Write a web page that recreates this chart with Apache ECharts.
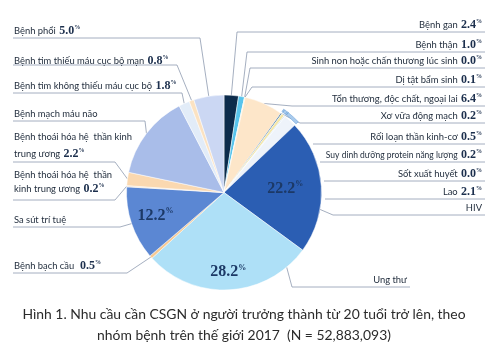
<!DOCTYPE html>
<html><head><meta charset="utf-8">
<script src="https://cdn.jsdelivr.net/npm/echarts@6/dist/echarts.min.js"></script>
<style>html,body{margin:0;padding:0;background:#fff}#c{width:504px;height:355px}</style>
</head><body><div id="c"></div>
<script>
// ---- data ----
const categories = [
  'Bệnh gan','Bệnh thận','Sinh non hoặc chấn thương lúc sinh','Dị tật bẩm sinh',
  'Tổn thương, độc chất, ngoại lai','Xơ vữa động mạch','Rối loạn thần kinh-cơ',
  'Suy dinh dưỡng protein năng lượng','Sốt xuất huyết','Lao','HIV','Ung thư',
  'Bệnh bạch cầu','Sa sút trí tuệ','Bệnh thoái hóa hệ thần kinh trung ương',
  'Bệnh thoái hóa hệ thần kinh trung ương','Bệnh mạch máu não',
  'Bệnh tim không thiếu máu cục bộ','Bệnh tim thiếu máu cục bộ mạn','Bệnh phổi'
];
const values = [2.4,1.0,0.0,0.1,6.4,0.2,0.5,0.2,0.0,2.1,22.2,28.2,0.5,12.2,0.2,2.2,14.1,1.8,0.8,5.0];
const labelTexts = [
  'Bệnh gan','Bệnh thận','Sinh non hoặc chấn thương lúc sinh','Dị tật bẩm sinh',
  'Tổn thương, độc chất, ngoại lai','Xơ vữa động mạch','Rối loạn thần kinh-cơ',
  'Suy dinh dưỡng protein năng lượng','Sốt xuất huyết','Lao','HIV','Ung thư',
  'Bệnh bạch cầu ','Sa sút trí tuệ','Bệnh thoái hóa hệ  thần\nkinh trung ương',
  'Bệnh thoái hóa hệ  thần kinh\ntrung ương','Bệnh mạch máu não',
  'Bệnh tim không thiếu máu cục bộ','Bệnh tim thiếu máu cục bộ mạn','Bệnh phổi'
];
const valueInLabel = [1,1,1,1,1,1,1,1,1,1,0,0,1,0,1,1,0,1,1,1];
const valueInside  = [0,0,0,0,0,0,0,0,0,0,1,1,0,1,0,0,0,0,0,0];
const captionLines = [
  'Hình 1. Nhu cầu cần CSGN ở người trưởng thành từ 20 tuổi trở lên, theo',
  'nhóm bệnh trên thế giới 2017  (N = 52,883,093)'
];

// ---- styles / layout ----
const colors = ['#0c2c4c','#58c4ec','#e9dc9c','#efe3a2','#fde6c9','#1f5b8e','#f3e6a8','#cfe2f5','#ffffff','#eef3fa',
  '#2b5eb3','#aee0f7','#f6c992','#5b87d3','#f2ddc4','#fad8b0','#a9bde9','#e2ecf8','#fbe2c2','#cbd7f3'];
const CX = 224, CY = 192.5, R = 97.5;
const labelY = [32,52,68,87,106,123,144,162,181,199,215,287,273,227,196,162,121,93,68,38];
const lineY  = [32,52,68,87,106,123,144,162,181,199,215,287,273,227,200,162,121,93,65,38];
const kneeX  = [237,247,250,252,292,300,313,320,324,325,333,292,127,120,115,115,145,182,177,200];
const anchorDeg = [null,null,null,null,null,null,'k','k','k','k',100,140,null,null,null,null,null,null,null,null];
const lineHts = [14,14,14,14,14,14,14,14,14,14,14,14,14,14,14,17,14,14,14,14];
const smallText = [0,0,0,0,0,0,0,1,0,0,0,0,0,0,0,0,0,0,0,0];
const innerFrac = {10:0.63, 11:0.82, 13:0.74};
const ringIdx = [5,6,7,8,9];
const TXT_FONT = 'Lato';

const total = values.reduce((a,b)=>a+b,0);
function midAngle(i){ let c=0; for(let k=0;k<i;k++) c+=values[k]; return (c+values[i]/2)/total*360; }
function ptAt(deg, r){ const a=deg*Math.PI/180; return [CX+r*Math.sin(a), CY-r*Math.cos(a)]; }

const chart = echarts.init(document.getElementById('c'), null, {renderer:'canvas'});
const data = values.map((v,i)=>({name:categories[i], value:v}));

const rich = {
  n:{fontFamily:TXT_FONT, fontSize:9.4, color:'#1e2a3a'},
  s:{fontFamily:TXT_FONT, fontSize:8.5, color:'#1e2a3a'},
  v:{fontFamily:'Liberation Serif', fontWeight:'bold', fontSize:12, color:'#1c2f4d'},
  p:{fontFamily:'Liberation Serif', fontWeight:'bold', fontSize:6, color:'#1c2f4d', padding:[0,0,7,0]},
  N:{fontFamily:'Liberation Serif', fontWeight:'bold', fontSize:16, color:'#1c3966'},
  P:{fontFamily:'Liberation Serif', fontWeight:'bold', fontSize:8, color:'#1c3966', padding:[0,0,9,0]}
};

const option = {
  backgroundColor:'#ffffff',
  animation:false,
  graphic: captionLines.map((t,k)=>({type:'text', x:244, y:315+k*21,
    style:{text:t, align:'center', verticalAlign:'middle', fill:'#2b2b2b', font:'13.9px Lato'}})),
  series:[
    {
      type:'pie', center:[CX,CY], radius:R, startAngle:90, clockwise:true,
      avoidLabelOverlap:false, silent:true,
      data: data.map((d,i)=>({...d, itemStyle:{color:colors[i]},
        label:{lineHeight:lineHts[i]}})),
      itemStyle:{borderColor:'#ffffff', borderWidth:0.5},
      label:{show:true, position:'outside', rich:rich,
        formatter:(p)=>{
          const i=p.dataIndex; const lines=labelTexts[i].split('\n');
          const key = smallText[i] ? 's' : 'n';
          let s=lines.map(l=>'{'+key+'|'+l+'}').join('\n');
          if(valueInLabel[i]) s+=' {v|'+values[i].toFixed(1)+'}{p|%}';
          return s;
        }},
      labelLine:{show:true, length:5, length2:5, lineStyle:{color:'#8e9bb0', width:0.8}},
      labelLayout:(p)=>{
        const i=p.dataIndex;
        const isRight = i<=11;
        const farX = i===11 ? 410 : (isRight ? 485 : 13);
        const x = i===11 ? 407 : (isRight ? 482 : 14);
        let a;
        if(anchorDeg[i]==='k') a=[kneeX[i], lineY[i]];
        else if(typeof anchorDeg[i]==='number') a=ptAt(anchorDeg[i], R);
        else if(p.labelLinePoints && p.labelLinePoints[0]) a=p.labelLinePoints[0];
        else a=ptAt(midAngle(i), R);
        return {x:x, y:labelY[i], align:isRight?'right':'left', verticalAlign:'bottom',
          labelLinePoints:[a,[kneeX[i],lineY[i]],[farX,lineY[i]]]};
      }
    },
    {
      type:'pie', center:[CX,CY], radius:R, startAngle:90, clockwise:true, silent:true,
      avoidLabelOverlap:false,
      data: data.map((d,i)=>({...d, itemStyle:{color:'rgba(0,0,0,0)', borderWidth:0},
        label:{show:!!valueInside[i]}})),
      label:{position:'inside', rich:rich, formatter:(p)=>'{N|'+values[p.dataIndex].toFixed(1)+'}{P|%}'},
      labelLine:{show:false},
      labelLayout:(p)=>{
        const i=p.dataIndex; if(!valueInside[i]) return {};
        const pt=ptAt(midAngle(i), innerFrac[i]*R);
        return {x:pt[0], y:pt[1], align:'center', verticalAlign:'middle'};
      }
    },
    {
      type:'pie', center:[CX,CY], radius:[R+2, R+5], startAngle:90, clockwise:true, silent:true,
      label:{show:false}, labelLine:{show:false},
      data: data.map((d,i)=>({...d, itemStyle:{color: ringIdx.includes(i)?'#a9cbed':'rgba(0,0,0,0)',
        borderColor: ringIdx.includes(i)?'#6fa3d8':'rgba(0,0,0,0)', borderWidth:0.6}}))
    }
  ]
};
chart.setOption(option);
</script></body></html>
